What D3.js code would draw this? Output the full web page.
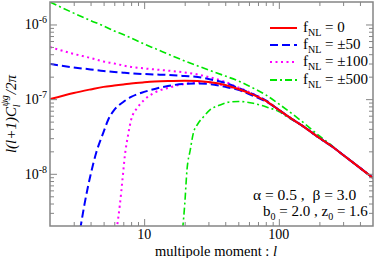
<!DOCTYPE html>
<html>
<head>
<meta charset="utf-8">
<script src="https://cdn.jsdelivr.net/npm/d3@7"></script>
<style>
  body { margin: 0; background: #fff; }
  text { font-family: "Liberation Serif", "Times New Roman", serif; }
</style>
</head>
<body>
<div id="app"></div>
<script>
// multipole moment l, shared tail
const tailL = [150, 200, 250, 300, 400, 500];
const tailV = [4.38e-8, 3.02e-8, 2.3e-8, 1.79e-8, 1.20e-8, 8.8e-9];

const redL = [2, 3, 4, 5, 6, 7, 8, 10, 12, 15, 20, 25, 30, 40, 50, 60, 80, 100, 120];
const redV = [1.0e-7, 1.21e-7, 1.35e-7, 1.46e-7, 1.52e-7, 1.57e-7, 1.62e-7, 1.68e-7, 1.72e-7, 1.75e-7, 1.77e-7, 1.75e-7, 1.70e-7, 1.55e-7, 1.37e-7, 1.21e-7, 9.46e-8, 7.17e-8, 5.7e-8];

const blueUpL = [2, 3, 4, 5, 6, 7, 8, 10, 12, 15, 20, 25, 30, 40, 50, 60, 80, 100, 120];
const blueUpV = [2.96e-7, 2.66e-7, 2.50e-7, 2.38e-7, 2.31e-7, 2.26e-7, 2.22e-7, 2.17e-7, 2.14e-7, 2.11e-7, 2.04e-7, 1.98e-7, 1.86e-7, 1.65e-7, 1.41e-7, 1.23e-7, 9.6e-8, 7.17e-8, 5.7e-8];
const blueLoL = [3.35, 3.6, 4, 4.4, 5, 5.4, 6, 7, 8, 10, 12, 15, 20, 25, 30, 40, 50, 60, 80, 100, 120];
const blueLoV = [1.8e-9, 3.83e-9, 9.66e-9, 1.90e-8, 3.64e-8, 5.26e-8, 7.17e-8, 9.17e-8, 1.07e-7, 1.25e-7, 1.37e-7, 1.50e-7, 1.60e-7, 1.62e-7, 1.60e-7, 1.46e-7, 1.33e-7, 1.17e-7, 9.31e-8, 7.17e-8, 5.7e-8];

const magUpL = [2, 3, 4, 5, 6, 7, 8, 10, 12, 15, 20, 25, 30, 40, 50, 60, 80, 100, 120];
const magUpV = [4.99e-7, 4.03e-7, 3.56e-7, 3.19e-7, 3.00e-7, 2.82e-7, 2.70e-7, 2.58e-7, 2.50e-7, 2.41e-7, 2.28e-7, 2.14e-7, 1.98e-7, 1.70e-7, 1.43e-7, 1.25e-7, 9.6e-8, 7.17e-8, 5.7e-8];
const magLoL = [6.25, 6.6, 6.9, 7.2, 7.6, 8, 9, 10, 12, 15, 20, 25, 30, 40, 50, 60, 80, 100, 120];
const magLoV = [1.8e-9, 3.83e-9, 8.28e-9, 1.79e-8, 3.31e-8, 5.26e-8, 7.86e-8, 9.75e-8, 1.23e-7, 1.41e-7, 1.60e-7, 1.67e-7, 1.67e-7, 1.50e-7, 1.35e-7, 1.19e-7, 9.46e-8, 7.17e-8, 5.7e-8];

const greenUpL = [2, 3, 4, 5, 6, 7, 8, 10, 12, 15, 20, 25, 30, 40, 50, 60, 80, 100, 150, 200, 250];
const greenUpV = [2.0e-6, 1.42e-6, 1.13e-6, 9.54e-7, 8.18e-7, 7.34e-7, 6.59e-7, 5.48e-7, 4.77e-7, 4.03e-7, 3.24e-7, 2.78e-7, 2.46e-7, 2.04e-7, 1.75e-7, 1.50e-7, 1.14e-7, 8.62e-8, 4.95e-8, 3.21e-8, 2.35e-8];
const greenLoL = [19.3, 20, 20.8, 22, 23.2, 25, 27.5, 30.8, 36.6, 43.3, 50, 64.6, 80, 100, 120];
const greenLoV = [1.8e-9, 3.83e-9, 1.13e-8, 2.09e-8, 3.53e-8, 4.65e-8, 5.77e-8, 7.17e-8, 8.36e-8, 9.17e-8, 9.31e-8, 8.79e-8, 7.9e-8, 6.8e-8, 5.55e-8];

const legendLabels = ["0", "\u00b150", "\u00b1100", "\u00b1500"];
const xTickLabels = [10, 100];
const yTickExps = [-6, -7, -8];

const chart = () => {
  const width = 374;
  const height = 258;
  const left = 50, right = 373, top = 2, bottom = 226;

  const svg = d3.create("svg").attr("width", width).attr("height", height);

  const x = d3.scaleLog().domain([2, 500]).range([left, right]);
  const y = d3.scaleLog().domain([2e-9, 2e-6]).range([bottom, top]);

  svg.append("defs").append("clipPath").attr("id", "clip")
    .append("rect").attr("x", left).attr("y", top)
    .attr("width", right - left).attr("height", bottom - top);

  const line = d3.line()
    .x((d) => x(d[0]))
    .y((d) => y(d[1]))
    .curve(d3.curveMonotoneX);

  // append the shared tail beyond the last l of a series
  const join = (ls, vs) => {
    const pts = ls.map((l, i) => [l, vs[i]]);
    const last = ls[ls.length - 1];
    return pts.concat(tailL.map((l, i) => [l, tailV[i]]).filter((p) => p[0] > last));
  };

  const green = "#00e600";
  const series = [
    { pts: join(greenUpL, greenUpV), color: green, dash: "7,3,2,3", w: 1.6 },
    { pts: join(greenLoL, greenLoV), color: green, dash: "7,3,2,3", w: 1.6 },
    { pts: join(magUpL, magUpV), color: "#ff00ff", dash: "2,3.5", w: 2 },
    { pts: join(magLoL, magLoV), color: "#ff00ff", dash: "2,3.5", w: 2 },
    { pts: join(blueUpL, blueUpV), color: "#0000ff", dash: "8,4", w: 2 },
    { pts: join(blueLoL, blueLoV), color: "#0000ff", dash: "8,4", w: 2 },
    { pts: join(redL, redV), color: "#ff0000", dash: null, w: 2 },
  ];

  const g = svg.append("g").attr("clip-path", "url(#clip)");
  series.forEach((s) => {
    g.append("path")
      .attr("d", line(s.pts))
      .attr("fill", "none")
      .attr("stroke", s.color)
      .attr("stroke-width", s.w)
      .attr("stroke-dasharray", s.dash);
  });

  // ticks, all pointing inward on the four sides
  const axisColor = "#858585";
  const xMajor = [10, 100];
  const xMinor = [3, 4, 5, 6, 7, 8, 9, 20, 30, 40, 50, 60, 70, 80, 90, 200, 300, 400];
  const yMajor = [1e-6, 1e-7, 1e-8];
  const yMinor = [];
  [1e-9, 1e-8, 1e-7, 1e-6].forEach((b) => {
    for (let k = 2; k <= 9; k++) {
      const v = b * k;
      if (v > 2e-9 && v < 2e-6) yMinor.push(v);
    }
  });

  const styleAxis = (sel) => {
    sel.select(".domain").remove();
    sel.selectAll("line").attr("stroke", axisColor).attr("stroke-width", 1);
    sel.selectAll("text").remove();
  };

  const addX = (vals, len) => {
    svg.append("g").attr("transform", `translate(0,${bottom})`)
      .call(d3.axisBottom(x).tickValues(vals).tickSize(-len)).call(styleAxis);
    svg.append("g").attr("transform", `translate(0,${top})`)
      .call(d3.axisTop(x).tickValues(vals).tickSize(-len)).call(styleAxis);
  };
  const addY = (vals, len) => {
    svg.append("g").attr("transform", `translate(${left},0)`)
      .call(d3.axisLeft(y).tickValues(vals).tickSize(-len)).call(styleAxis);
    svg.append("g").attr("transform", `translate(${right},0)`)
      .call(d3.axisRight(y).tickValues(vals).tickSize(-len)).call(styleAxis);
  };
  addX(xMajor, 7);
  addX(xMinor, 4);
  addY(yMajor, 7);
  addY(yMinor, 4);

  svg.append("rect")
    .attr("x", left).attr("y", top)
    .attr("width", right - left).attr("height", bottom - top)
    .attr("fill", "none").attr("stroke", axisColor).attr("stroke-width", 1.5);

  // x tick labels
  svg.append("g").selectAll("text").data(xTickLabels).join("text")
    .attr("x", (d) => x(d)).attr("y", bottom + 13)
    .attr("text-anchor", "middle").style("font-size", "14px")
    .text((d) => d);

  // y tick labels
  const yl = svg.append("g").selectAll("text").data(yTickExps).join("text")
    .attr("x", left - 3).attr("y", (d) => y(Math.pow(10, d)) + 5)
    .attr("text-anchor", "end").style("font-size", "14px");
  yl.append("tspan").text("10");
  yl.append("tspan").attr("dy", -6).style("font-size", "10px").text((d) => d);

  // axis titles
  const xt = svg.append("text")
    .attr("x", 216).attr("y", 256)
    .attr("text-anchor", "middle").style("font-size", "14.5px");
  xt.append("tspan").text("multipole moment : ");
  xt.append("tspan").style("font-style", "italic").text("l");

  const yt = svg.append("text")
    .attr("transform", `translate(16,${(top + bottom) / 2}) rotate(-90)`)
    .attr("text-anchor", "middle").style("font-size", "15px").style("font-style", "italic");
  yt.append("tspan").text("l(l+1)C");
  yt.append("tspan").attr("dy", 4).style("font-size", "10px").text("l");
  yt.append("tspan").attr("dy", -12).attr("dx", -2).style("font-size", "10px").text("\u03c8g");
  yt.append("tspan").attr("dy", 8).attr("dx", 1).text("/2\u03c0");

  // legend
  const legendColors = ["#ff0000", "#0000ff", "#ff00ff", green];
  const legendDash = [null, "8,4", "2,3.5", "7,3,2,3"];
  const legendRows = [28, 45, 62, 80];
  const lg = svg.append("g");
  legendLabels.forEach((lab, i) => {
    lg.append("line")
      .attr("x1", 270).attr("x2", 297)
      .attr("y1", legendRows[i]).attr("y2", legendRows[i])
      .attr("stroke", legendColors[i]).attr("stroke-width", 2)
      .attr("stroke-dasharray", legendDash[i]);
    const t = lg.append("text").attr("x", 303).attr("y", legendRows[i] + 4)
      .style("font-size", "15px");
    t.append("tspan").text("f");
    t.append("tspan").attr("dy", 4).style("font-size", "10px").text("NL");
    t.append("tspan").attr("dy", -4).text(" = " + lab);
  });

  // parameters
  svg.append("text").attr("x", 253).attr("y", 200).style("font-size", "15.5px")
    .text("\u03b1 = 0.5 ,\u00a0\u00a0\u03b2 = 3.0");
  const p2 = svg.append("text").attr("x", 263).attr("y", 216).style("font-size", "15px");
  p2.append("tspan").text("b");
  p2.append("tspan").attr("dy", 4).style("font-size", "10px").text("0");
  p2.append("tspan").attr("dy", -4).text(" = 2.0 , z");
  p2.append("tspan").attr("dy", 4).style("font-size", "10px").text("0");
  p2.append("tspan").attr("dy", -4).text(" = 1.6");

  return svg.node();
};

d3.select("#app").append(chart);
</script>
</body>
</html>
